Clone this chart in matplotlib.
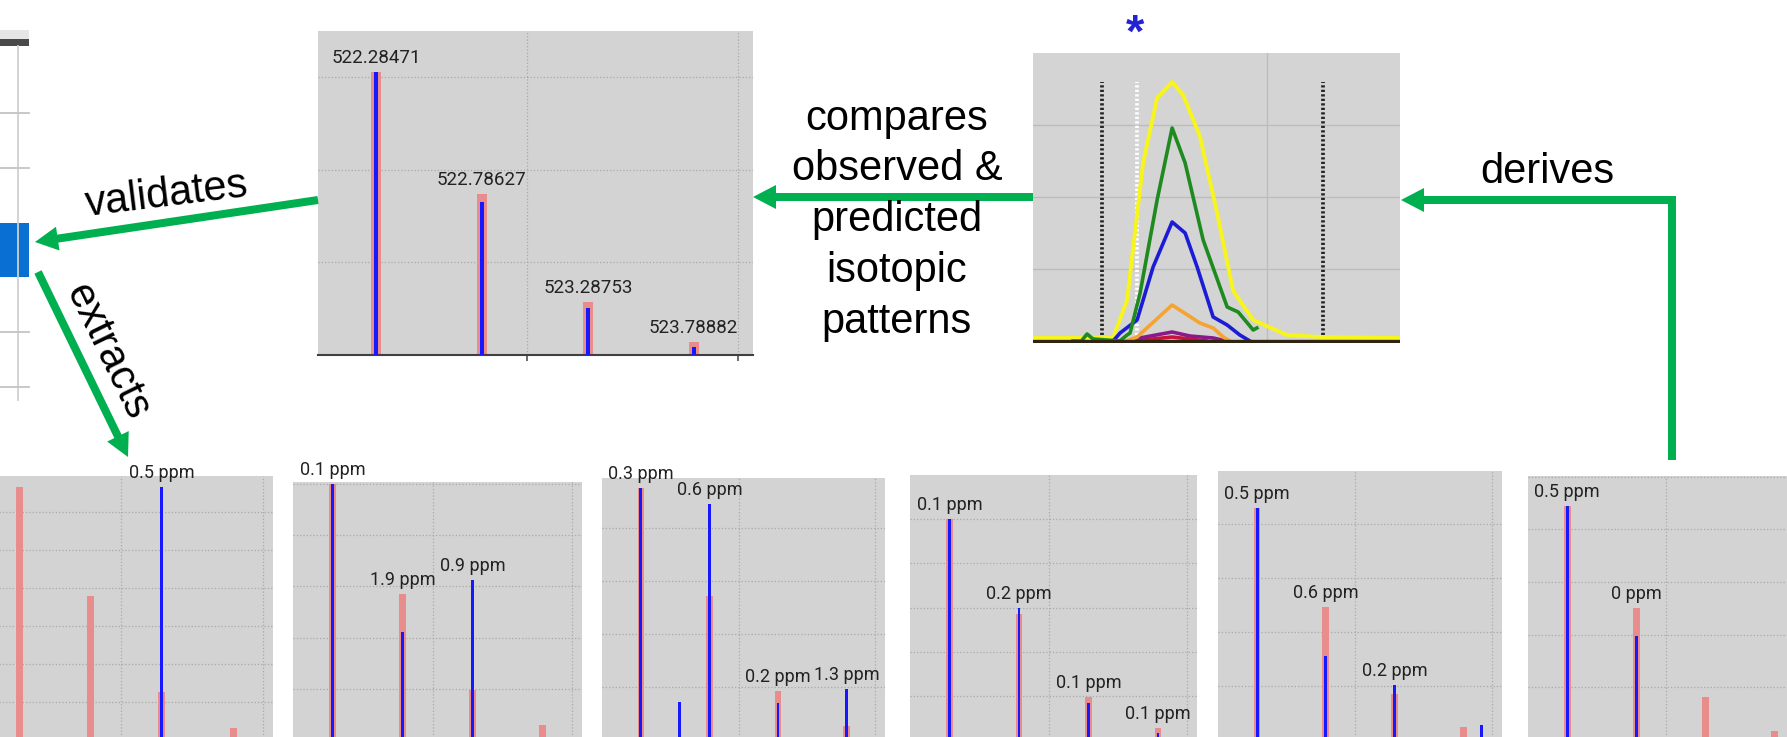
import numpy as np
import matplotlib
matplotlib.use("Agg")
import matplotlib.pyplot as plt
from matplotlib.patches import Polygon, Rectangle

# -----------------------------------------------------------------------------
#                                Data
# -----------------------------------------------------------------------------

# isotope m/z of the precursor (z=2)
iso_mz = [522.28471, 522.78627, 523.28753, 523.78882]

# top spectrum: predicted (pink) vs observed (blue), relative intensity %
top_pred = [100, 57.0, 18.7, 4.6]
top_obs = [100, 54.0, 16.6, 2.8]

# six extracted spectra (bottom row)
pred_1 = [100, 56.9, 19.0, 4.7]
obs_1 = [0, 0, 100, 0]
ppm_1 = ["", "", "0.5 ppm", ""]

pred_2 = [100, 57.0, 19.5, 5.9]
obs_2 = [100, 42.2, 62.5, 0]
ppm_2 = ["0.1 ppm", "1.9 ppm", "0.9 ppm", ""]

pred_3 = [100, 57.1, 19.4, 5.6]
obs_3 = [100, 93.7, 14.7, 20.2]
ppm_3 = ["0.3 ppm", "0.6 ppm", "0.2 ppm", "1.3 ppm"]

pred_4 = [100, 57.0, 19.5, 5.4]
obs_4 = [100, 59.7, 16.7, 3.2]
ppm_4 = ["0.1 ppm", "0.2 ppm", "0.1 ppm", "0.1 ppm"]

pred_5 = [100, 57.3, 19.8, 5.6]
obs_5 = [100, 36.2, 23.7, 0]
ppm_5 = ["0.5 ppm", "0.6 ppm", "0.2 ppm", ""]

pred_6 = [100, 56.4, 18.4, 3.8]
obs_6 = [100, 44.4, 0, 0]
ppm_6 = ["0.5 ppm", "0 ppm", "", ""]

# interfering observed peaks (m/z, intensity) per spectrum
extra_3 = ([522.567], [15.1])
extra_5 = ([523.923], [6.5])

# extracted ion chromatograms (scan, intensity)
rt_yellow = [0, 20, 24, 28.2, 33, 37.2, 41.7, 45, 50, 55.2, 60, 66, 76.1, 86, 110]
int_yellow = [3, 3, 3, 41, 178, 243, 259, 246, 205, 128, 50, 21, 6, 4, 3]
rt_green = [12, 14.5, 16.2, 18, 26, 28.2, 29.1, 32.1, 37.2, 41.7, 45.6, 51, 58.2, 61.5, 66, 67.1]
int_green = [0, 0, 7, 2, 0, 6, 8, 48, 141, 213, 178, 101, 34, 29, 11, 13]
rt_blue = [24, 26.1, 31.2, 36, 41.7, 45.6, 49.2, 54, 58.2, 62, 65]
int_blue = [0, 8, 21, 74, 119, 108, 74, 24, 16, 6, 0]
rt_orange = [28, 31.2, 41.7, 50, 54, 57, 59]
int_orange = [0, 4, 36, 18, 13, 4, 0]
rt_purple = [29, 32, 41.7, 47, 54, 58]
int_purple = [0, 3, 9, 5, 3, 0]
rt_red = [30, 41.7, 52]
int_red = [0, 4, 0]

# integration borders and apex marker (scan)
borders = [20.7, 86.9]
apex_scan = 31.2

# -----------------------------------------------------------------------------
#                                Layout
# -----------------------------------------------------------------------------

W, H, DPI = 1787, 737, 100
GREEN = "#00b050"
PINK = "#e88c8c"
BLUE = "#1818ff"
BG = "#d3d3d3"
GRID = "#a9a9a9"
LABEL = "#222222"
FONT = "Liberation Sans"

plt.rcParams["font.family"] = ["Roboto", "DejaVu Sans"]

fig = plt.figure(figsize=(W / DPI, H / DPI), dpi=DPI)
fig.patch.set_facecolor("white")


def px_axes(left, top, right, bottom, **kw):
    return fig.add_axes([left / W, 1 - bottom / H, (right - left) / W, (bottom - top) / H], **kw)


def clean(ax):
    for s in ax.spines.values():
        s.set_visible(False)
    ax.tick_params(length=0, labelbottom=False, labelleft=False)


# --- top isotope spectrum ----------------------------------------------------
ax = px_axes(318, 31, 753, 355)
ax.set_facecolor(BG)
ax.bar(iso_mz, top_pred, width=0.047, color=PINK, zorder=2)
ax.bar(iso_mz, top_obs, width=0.019, color=BLUE, zorder=3)
for m, p, o in zip(iso_mz, top_pred, top_obs):
    ax.annotate(f"{m:.5f}", (m, max(p, o)), xytext=(0, 6.5), textcoords="offset points",
                ha="center", va="baseline", fontsize=13.5, color=LABEL, annotation_clip=False)
ax.set_xlim(522.01, 524.07)
ax.set_ylim(0, 114.5)
ax.set_xticks([523, 524])
ax.set_yticks([32.7, 65.4, 98.1])
ax.grid(True, ls=":", color=GRID, lw=0.9)
clean(ax)
ax.spines["bottom"].set_visible(True)
ax.spines["bottom"].set_color("#404040")
ax.spines["bottom"].set_linewidth(1.5)
ax.tick_params(axis="x", direction="out", length=4, width=1.2, color="#505050")

# --- chromatogram --------------------------------------------------------------
ax = px_axes(1033, 53, 1400, 343)
ax.set_facecolor("#d4d4d4")
ax.set_xlim(0, 110)
ax.set_ylim(-2, 288)
ax.set_xticks([70])
ax.set_yticks([72, 144, 216])
ax.grid(True, ls="-", color="#bcbcbc", lw=1)
clean(ax)
ax.vlines(borders, 6, 259, colors="#262626", linestyles=(0, (0.6, 0.6)), lw=2.7, zorder=2)
ax.vlines([apex_scan], 6, 259, colors="white", linestyles=(0, (0.6, 0.6)), lw=2.7, zorder=2)
ax.plot(rt_red, int_red, color="#c8143c", lw=2.6, zorder=3)
ax.plot(rt_purple, int_purple, color="#8a1a8a", lw=2.6, zorder=3)
ax.plot(rt_orange, int_orange, color="#f5a431", lw=2.6, zorder=3)
ax.plot(rt_blue, int_blue, color="#1c1cd6", lw=2.6, zorder=3)
ax.plot(rt_green, int_green, color="#1f8a1f", lw=2.6, zorder=3)
ax.plot(rt_yellow, int_yellow, color="#f7f51c", lw=2.8, zorder=2.5)
ax.axhline(0.5, color="#2e2410", lw=2.4, zorder=4)

# --- bottom row of extracted spectra -------------------------------------------
boxes = [(-21, 476, 273), (293, 482, 582), (602, 478, 885),
         (910, 475, 1197), (1218, 471, 1502), (1528, 476, 1813)]
tops = [104.3, 100.8, 104.0, 120.0, 116.0, 112.8]
steps = [15, 20, 21, 20, 23.3, 22.5]
preds = [pred_1, pred_2, pred_3, pred_4, pred_5, pred_6]
obss = [obs_1, obs_2, obs_3, obs_4, obs_5, obs_6]
ppms = [ppm_1, ppm_2, ppm_3, ppm_4, ppm_5, ppm_6]
extras = [None, None, extra_3, None, extra_5, None]

for box, ymax, step, pred, obs, ppm, extra in zip(boxes, tops, steps, preds, obss, ppms, extras):
    ax = px_axes(box[0], box[1], box[2], 740)
    ax.set_facecolor(BG)
    ax.bar(iso_mz, pred, width=0.05, color=PINK, zorder=2)
    ax.bar(iso_mz, obs, width=0.021, color=BLUE, zorder=3)
    if extra is not None:
        ax.bar(extra[0], extra[1], width=0.021, color=BLUE, zorder=3)
    for m, p, o, t in zip(iso_mz, pred, obs, ppm):
        if t:
            ax.annotate(t, (m, max(p, o)), xytext=(0, 6.5), textcoords="offset points",
                        ha="center", va="baseline", fontsize=13, color=LABEL,
                        annotation_clip=False)
    ax.set_xlim(522.0, 524.07)
    ax.set_ylim(0, ymax)
    ax.set_xticks([523, 524])
    ax.set_yticks(np.arange(step, ymax, step))
    ax.grid(True, ls=":", color=GRID, lw=0.9)
    clean(ax)

# --- overlay: table fragment, arrows, captions -------------------------------
ov = fig.add_axes([0, 0, 1, 1], zorder=10)
ov.set_xlim(0, W)
ov.set_ylim(H, 0)
ov.axis("off")
ov.patch.set_alpha(0)

# table fragment on the left edge
ov.add_patch(Rectangle((0, 30), 29, 10, color="#e6e6e6", lw=0))
ov.add_patch(Rectangle((0, 39), 29, 7, color="#4a4a4a", lw=0))
ov.add_patch(Rectangle((0, 223), 29, 54, color="#0a6fd3", lw=0))
ov.plot([18, 18], [46, 400], color="#d0d0d0", lw=1.3)
for yy in [113, 168, 332, 387]:
    ov.plot([0, 29], [yy, yy], color="#c4c4c4", lw=1.3)


def arrow(pts, lw_px=8, head_len=23, head_half=12):
    pts = np.array(pts, float)
    tip, prev = pts[-1], pts[-2]
    d = (tip - prev) / np.hypot(*(tip - prev))
    base = tip - d * head_len
    line = np.vstack([pts[:-1], base + d * 2])
    ov.plot(line[:, 0], line[:, 1], color=GREEN, lw=lw_px * 72 / DPI,
            solid_capstyle="butt", solid_joinstyle="miter")
    n = np.array([-d[1], d[0]])
    ov.add_patch(Polygon([tip, base + n * head_half, base - n * head_half],
                         closed=True, color=GREEN, lw=0))


arrow([(1672, 460), (1672, 200), (1401, 200)])
arrow([(1033, 197), (753, 197)])
arrow([(318, 200), (35, 242)])
arrow([(38, 272), (128, 457)])

ov.text(1547, 183, "derives", ha="center", va="baseline", fontsize=30, family=FONT)
# va="baseline" on a multi-line text anchors the last line
ov.text(897, 333, "compares\nobserved &\npredicted\nisotopic\npatterns", ha="center",
        va="baseline", fontsize=30, family=FONT, linespacing=1.35)
ov.text(167, 195, "validates", ha="center", va="center", fontsize=30, family=FONT,
        rotation=7, rotation_mode="anchor")
ov.text(107, 352, "extracts", ha="center", va="center", fontsize=30, family=FONT,
        rotation=-64, rotation_mode="anchor")
ov.text(1135, 47, "*", ha="center", va="baseline", fontsize=34, fontweight="bold",
        color="#2323d2", family=FONT)

fig.savefig("out.png", dpi=DPI)
